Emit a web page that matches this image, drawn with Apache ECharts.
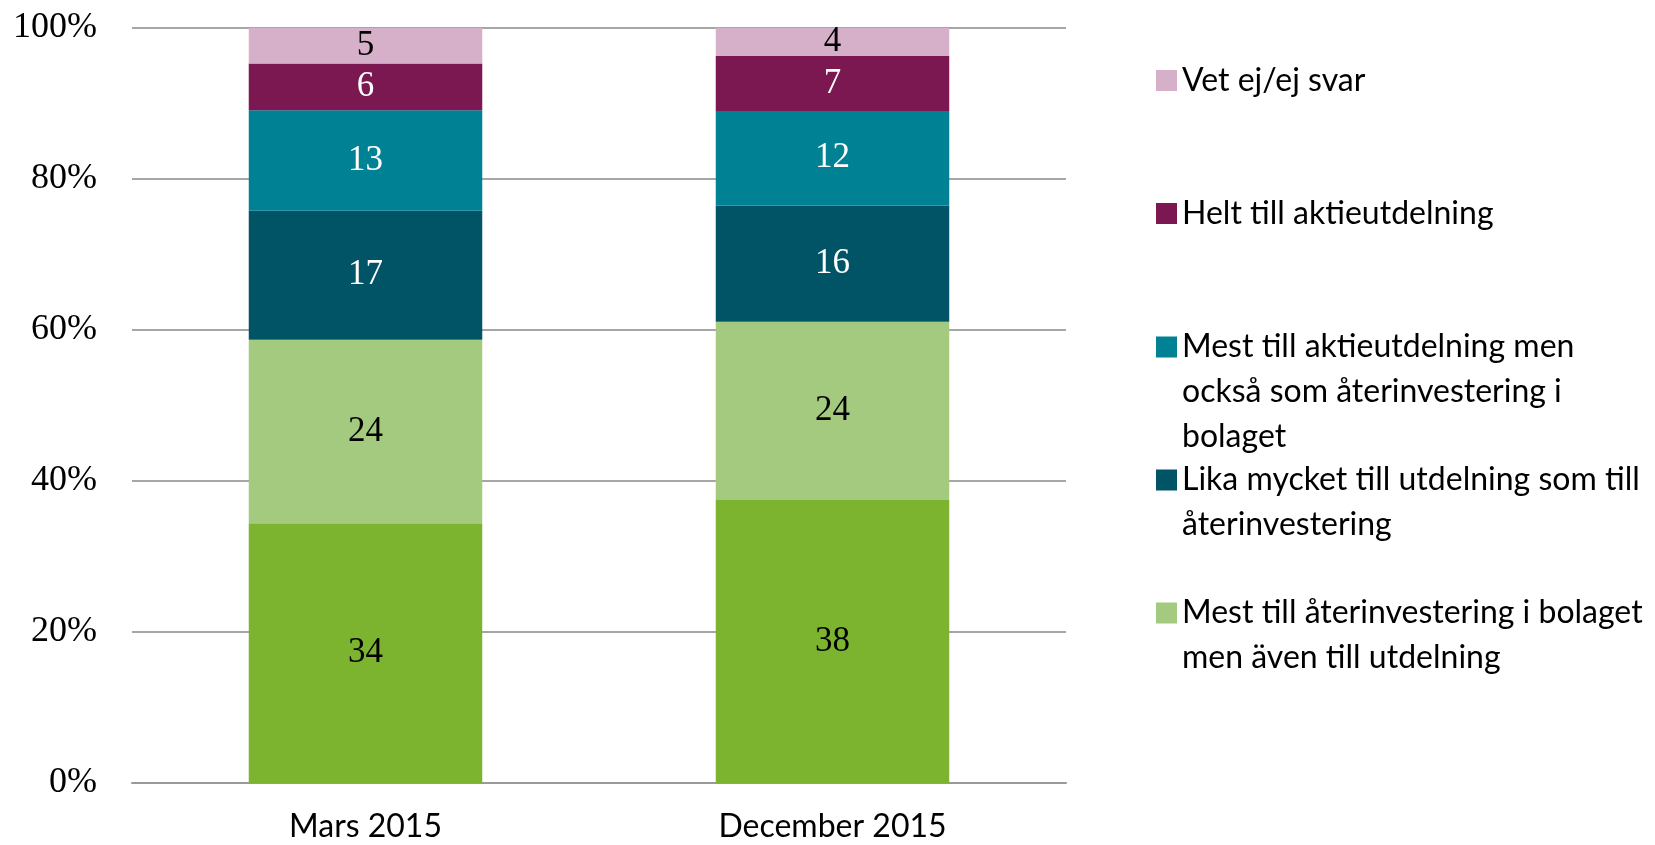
<!DOCTYPE html>
<html>
<head>
<meta charset="utf-8">
<script src="https://cdn.jsdelivr.net/npm/echarts@6/dist/echarts.min.js"></script>
<style>
  html, body { margin: 0; padding: 0; background: #fff; }
  #chart { width: 1655px; height: 845px; }
</style>
</head>
<body>
<div id="chart"></div>
<script>
// categories on the x axis
const categories = ['Mars 2015', 'December 2015']

// bar heights, share of column in percent as measured (bottom to top)
const heltAterinv = [34.4, 37.5]
const mestAterinv = [24.3, 23.6]
const likaMycket = [17.1, 15.4]
const mestAktie = [13.3, 12.5]
const heltAktie = [6.2, 7.3]
const vetEj = [4.7, 3.7]

// numbers printed on the bars
const heltAterinvLbl = [34, 38]
const mestAterinvLbl = [24, 24]
const likaMycketLbl = [17, 16]
const mestAktieLbl = [13, 12]
const heltAktieLbl = [6, 7]
const vetEjLbl = [5, 4]

const yTicks = [0, 20, 40, 60, 80, 100]

const seriesDefs = [
  { name: 'Helt till återinvestering i bolaget', data: heltAterinv, lbl: heltAterinvLbl, color: '#7cb430', label: '#000' },
  { name: 'Mest till återinvestering i bolaget men även till utdelning', data: mestAterinv, lbl: mestAterinvLbl, color: '#a3ca7f', label: '#000' },
  { name: 'Lika mycket till utdelning som till återinvestering', data: likaMycket, lbl: likaMycketLbl, color: '#005466', label: '#fff' },
  { name: 'Mest till aktieutdelning men också som återinvestering i bolaget', data: mestAktie, lbl: mestAktieLbl, color: '#008294', label: '#fff' },
  { name: 'Helt till aktieutdelning', data: heltAktie, lbl: heltAktieLbl, color: '#7b1751', label: '#fff' },
  { name: 'Vet ej/ej svar', data: vetEj, lbl: vetEjLbl, color: '#d6afc8', label: '#000' }
]

// legend entries (top to bottom) and how their text wraps
const legendOrder = [
  'Vet ej/ej svar',
  'Helt till aktieutdelning',
  'Mest till aktieutdelning men också som återinvestering i bolaget',
  'Lika mycket till utdelning som till återinvestering',
  'Mest till återinvestering i bolaget men även till utdelning'
]
const legendText = {
  'Vet ej/ej svar': 'Vet ej/ej svar',
  'Helt till aktieutdelning': 'Helt till aktieutdelning',
  'Mest till aktieutdelning men också som återinvestering i bolaget': 'Mest till aktieutdelning men\nockså som återinvestering i\nbolaget',
  'Lika mycket till utdelning som till återinvestering': 'Lika mycket till utdelning som till\nåterinvestering',
  'Mest till återinvestering i bolaget men även till utdelning': 'Mest till återinvestering i bolaget\nmen även till utdelning'
}
const legendTops = [58, 191, 324.5, 457.5, 590.5]

const LINE_H = 45
const SQ = 21
const legends = legendOrder.map((name, i) => {
  const lines = legendText[name].split('\n').length
  const h = lines * LINE_H
  const y0 = LINE_H / 2 - SQ / 2
  // square sits next to the first line, the box is as tall as the text
  const icon = `path://M0,0M0,${y0}h${SQ}v${SQ}h-${SQ}zM${SQ},${h}`
  return {
    show: true,
    data: [name],
    left: 1156,
    top: legendTops[i],
    padding: 0,
    orient: 'vertical',
    itemWidth: SQ,
    itemHeight: h,
    icon: icon,
    selectedMode: false,
    formatter: n => legendText[n],
    textStyle: {
      fontFamily: 'Lato',
      fontSize: 32,
      color: '#000',
      lineHeight: LINE_H
    }
  }
})

const myChart = echarts.init(document.getElementById('chart'))
myChart.setOption({
  animation: false,
  backgroundColor: '#fff',
  grid: {
    left: 132,
    right: 589,
    top: 28,
    bottom: 62
  },
  legend: legends,
  xAxis: {
    type: 'category',
    data: categories,
    axisTick: { show: false },
    axisLine: { lineStyle: { color: '#999', width: 2 } },
    axisLabel: {
      fontFamily: 'Lato',
      fontSize: 32,
      color: '#000',
      margin: 28
    }
  },
  yAxis: {
    type: 'value',
    min: yTicks[0],
    max: yTicks[yTicks.length - 1],
    interval: 20,
    axisLine: { show: false },
    axisTick: { show: false },
    splitLine: { lineStyle: { color: '#a6a6a6', width: 2 } },
    axisLabel: {
      formatter: '{value}%',
      fontFamily: 'Liberation Serif',
      fontSize: 36,
      color: '#000',
      margin: 35
    }
  },
  series: seriesDefs.map(d => ({
    name: d.name,
    type: 'bar',
    stack: 'total',
    barWidth: '50%',
    itemStyle: { color: d.color },
    data: d.data,
    label: {
      show: true,
      position: 'inside',
      fontFamily: 'Liberation Serif',
      fontSize: 35,
      color: d.label,
      formatter: p => String(d.lbl[p.dataIndex])
    }
  }))
})
</script>
</body>
</html>
